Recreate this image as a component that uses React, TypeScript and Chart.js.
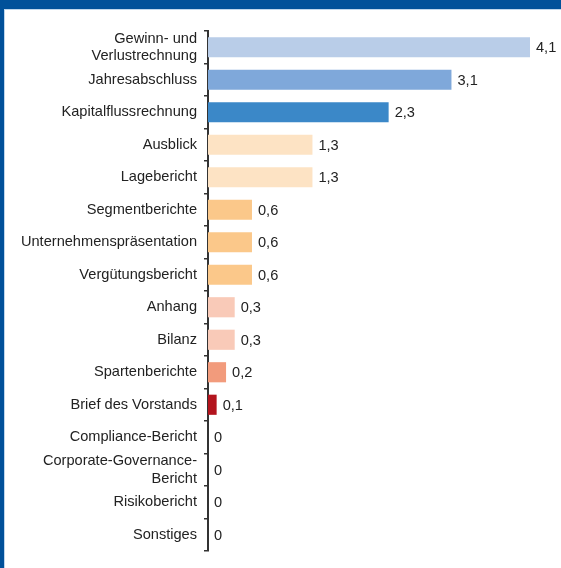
import React, { useEffect, useRef } from "react";
import { Chart, registerables } from "chart.js";

Chart.register(...registerables);

const categories: (string | string[])[] = [
  ["Gewinn- und", "Verlustrechnung"],
  "Jahresabschluss",
  "Kapitalflussrechnung",
  "Ausblick",
  "Lagebericht",
  "Segmentberichte",
  "Unternehmenspräsentation",
  "Vergütungsbericht",
  "Anhang",
  "Bilanz",
  "Spartenberichte",
  "Brief des Vorstands",
  "Compliance-Bericht",
  ["Corporate-Governance-", "Bericht"],
  "Risikobericht",
  "Sonstiges",
];

// bar lengths (labels show one decimal)
const values: number[] = [4.1, 3.1, 2.3, 1.33, 1.33, 0.56, 0.56, 0.56, 0.34, 0.34, 0.23, 0.11, 0, 0, 0, 0];

const barColors: string[] = [
  "#B9CDE8",
  "#7FA8DA",
  "#3B88C8",
  "#FDE3C4",
  "#FDE3C4",
  "#FBC88A",
  "#FBC88A",
  "#FBC88A",
  "#F9CAB8",
  "#F9CAB8",
  "#F29B7C",
  "#B3141D",
  "#B3141D",
  "#B3141D",
  "#B3141D",
  "#B3141D",
];

const FONT = "'Liberation Sans', Arial, Helvetica, sans-serif";
const FSIZE = 14.6;

const fmt = (v: number) => (v === 0 ? "0" : v.toFixed(1).replace(".", ","));

const valueLabels = {
  id: "valueLabels",
  afterDatasetsDraw(chart: any) {
    const ctx = chart.ctx;
    const meta = chart.getDatasetMeta(0);
    ctx.save();
    ctx.font = `${FSIZE}px ${FONT}`;
    ctx.fillStyle = "#222";
    ctx.textAlign = "left";
    ctx.textBaseline = "middle";
    meta.data.forEach((el: any, i: number) => {
      ctx.fillText(fmt(values[i]), el.x + 6, el.y + 1);
    });
    ctx.restore();
  },
};

export default function App() {
  const ref = useRef<HTMLCanvasElement>(null);
  useEffect(() => {
    document.body.style.margin = "0";
    const chart = new Chart(ref.current!, {
      type: "bar",
      data: {
        labels: categories,
        datasets: [
          {
            data: values,
            backgroundColor: barColors,
            barPercentage: 0.62,
            categoryPercentage: 1,
          },
        ],
      },
      options: {
        indexAxis: "y",
        responsive: false,
        animation: false,
        devicePixelRatio: 1,
        layout: { padding: { top: 21, bottom: 17, right: 31, left: 0 } },
        plugins: { legend: { display: false }, tooltip: { enabled: false } },
        scales: {
          x: { display: false, min: 0, max: 4.1 },
          y: {
            afterFit: (s: any) => {
              s.width = 203;
              s.paddingTop = 0;
              s.paddingBottom = 0;
            },
            border: { display: true, color: "#333", width: 2 },
            grid: {
              display: true,
              drawOnChartArea: false,
              drawTicks: true,
              tickLength: 4,
              color: "#333",
              lineWidth: 1.5,
              offset: true,
            },
            ticks: {
              color: "#222",
              font: { family: FONT, size: FSIZE },
              padding: 7,
              autoSkip: false,
            },
          },
        },
      },
      plugins: [valueLabels],
    });
    return () => chart.destroy();
  }, []);

  return (
    <div
      style={{
        position: "absolute",
        left: 0,
        top: 0,
        width: 561,
        height: 568,
        background: "#fff",
        overflow: "hidden",
      }}
    >
      <div style={{ position: "absolute", left: 0, top: 0, width: 561, height: 9, background: "#01519A" }} />
      <div style={{ position: "absolute", left: 0, top: 9, width: 561, height: 1, background: "#BFD6EC" }} />
      <div style={{ position: "absolute", left: 0, top: 0, width: 4, height: 568, background: "#01519A" }} />
      <div style={{ position: "absolute", left: 4, top: 9, width: 1, height: 559, background: "#BFD6EC" }} />
      <canvas
        ref={ref}
        width={556}
        height={558}
        style={{ position: "absolute", left: 5, top: 10, width: 556, height: 558 }}
      />
    </div>
  );
}
